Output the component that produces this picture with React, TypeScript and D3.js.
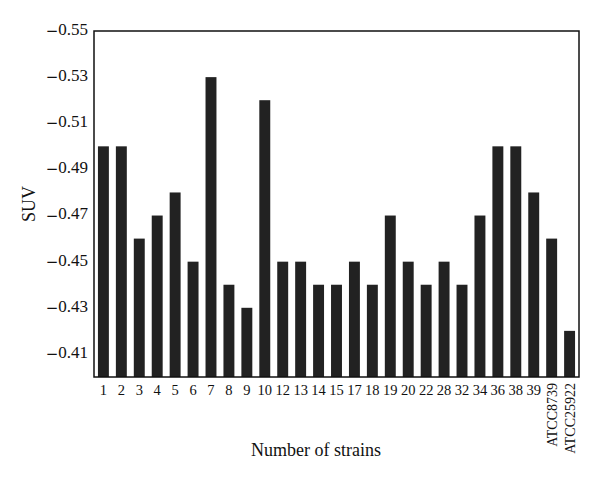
import React from "react";
import * as d3 from "d3";

const strains = [
  "1", "2", "3", "4", "5", "6", "7", "8", "9", "10", "12", "13", "14", "15",
  "17", "18", "19", "20", "22", "28", "32", "34", "36", "38", "39",
  "ATCC8739", "ATCC25922",
];
const suv = [
  -0.5, -0.5, -0.46, -0.47, -0.48, -0.45, -0.53, -0.44, -0.43, -0.52, -0.45,
  -0.45, -0.44, -0.44, -0.45, -0.44, -0.47, -0.45, -0.44, -0.45, -0.44, -0.47,
  -0.5, -0.5, -0.48, -0.46, -0.42,
];
const yTicks = [-0.55, -0.53, -0.51, -0.49, -0.47, -0.45, -0.43, -0.41];

const width = 600;
const height = 481;
const margin = { top: 31, right: 21, bottom: 104, left: 94 };
const font = "'Liberation Serif', 'DejaVu Serif', serif";

const App = () => {
  const x = d3
    .scaleBand()
    .domain(strains)
    .range([margin.left, width - margin.right])
    .paddingInner(0.39)
    .paddingOuter(0.22);

  const y = d3
    .scaleLinear()
    .domain([-0.4, -0.55])
    .range([height - margin.bottom, margin.top]);

  const y0 = y(-0.4);

  return (
    <svg
      width={width}
      height={height}
      style={{ position: "absolute", left: 0, top: 0, background: "#fff" }}
    >
      {strains.map((s, i) => (
        <rect
          key={s}
          x={x(s)}
          y={y(suv[i])}
          width={x.bandwidth()}
          height={y0 - y(suv[i])}
          fill="#222"
        />
      ))}
      <rect
        x={margin.left}
        y={margin.top}
        width={width - margin.left - margin.right}
        height={y0 - margin.top}
        fill="none"
        stroke="#111"
        strokeWidth={1.5}
      />
      {yTicks.map((t) => (
        <text
          key={t}
          x={88}
          y={y(t)}
          textAnchor="end"
          dominantBaseline="middle"
          fontFamily={font}
          fontSize={17}
          fill="#111"
        >
          <tspan fontFamily="'DejaVu Sans', sans-serif" fontSize={15}>{"\u2212"}</tspan>
          {Math.abs(t).toFixed(2)}
        </text>
      ))}
      {strains.map((s) => {
        const cx = x(s) + x.bandwidth() / 2;
        return s.startsWith("ATCC") ? (
          <text
            key={s}
            transform={`translate(${cx + 5}, ${y0 + 6}) rotate(-90)`}
            textAnchor="end"
            fontFamily={font}
            fontSize={14}
            fill="#111"
          >
            {s}
          </text>
        ) : (
          <text
            key={s}
            x={cx}
            y={y0 + 18}
            textAnchor="middle"
            fontFamily={font}
            fontSize={14.5}
            fill="#111"
          >
            {s}
          </text>
        );
      })}
      <text
        x={316}
        y={456}
        textAnchor="middle"
        fontFamily={font}
        fontSize={18}
        fill="#111"
      >
        Number of strains
      </text>
      <text
        transform={`translate(35, ${(margin.top + y0) / 2}) rotate(-90)`}
        textAnchor="middle"
        fontFamily={font}
        fontSize={18}
        fill="#111"
      >
        SUV
      </text>
    </svg>
  );
};

export default App;
